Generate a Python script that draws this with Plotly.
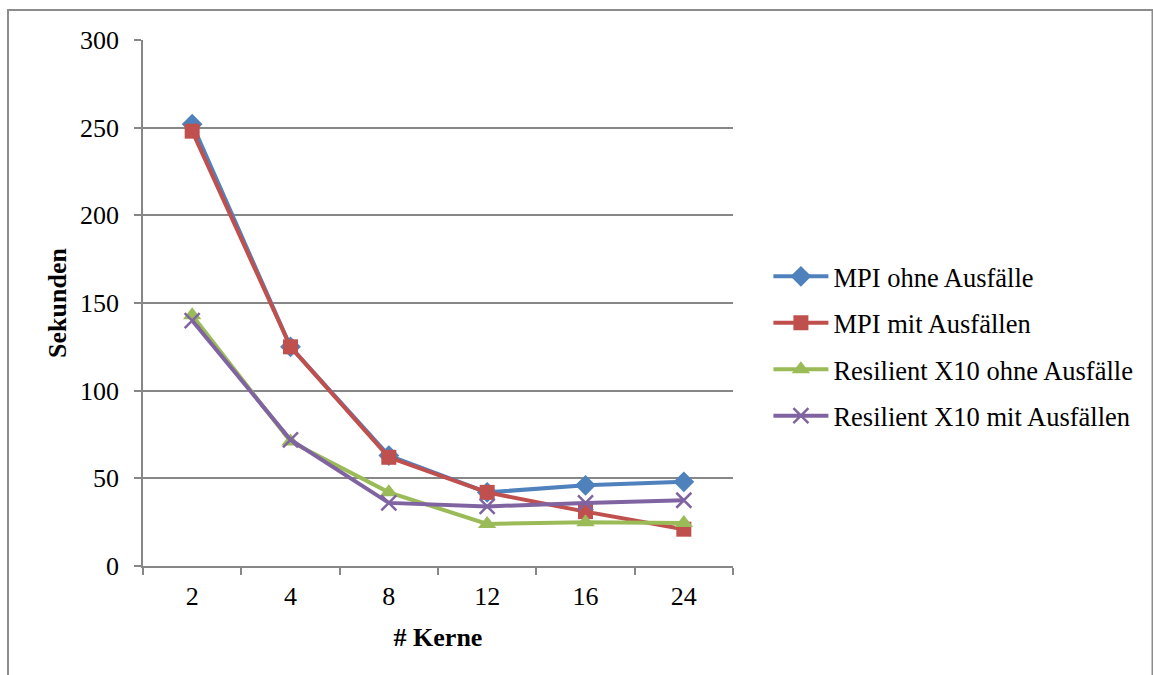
import plotly.graph_objects as go

kerne = ["2", "4", "8", "12", "16", "24"]
mpi_ohne = [252, 125, 63, 42, 46, 48]
mpi_mit = [248, 125, 62, 42, 31, 21]
x10_ohne = [143, 71, 42, 24, 25, 24.5]
x10_mit = [140, 72, 36, 34, 36, 37.5]
y_ticks = [0, 50, 100, 150, 200, 250, 300]

series = [
    ("MPI ohne Ausfälle", mpi_ohne, "#4F81BD", "diamond", 16),
    ("MPI mit Ausfällen", mpi_mit, "#C0504D", "square", 15),
    ("Resilient X10 ohne Ausfälle", x10_ohne, "#9BBB59", "triangle-up", 16),
    ("Resilient X10 mit Ausfällen", x10_mit, "#8064A2", "x-thin-open", 15),
]

fig = go.Figure()
for i, (name, vals, color, sym, size) in enumerate(series):
    fig.add_trace(go.Scatter(
        x=kerne, y=vals, name=name, mode="lines+markers",
        legendgroup=f"g{i}",
        line=dict(color=color, width=4),
        marker=dict(symbol=sym, size=size, color=color,
                    line=dict(color=color, width=2.5 if sym == "x-thin-open" else 0)),
    ))

font = "Liberation Serif, Times New Roman, serif"
fig.update_layout(
    width=1153, height=675,
    margin=dict(l=143, r=420, t=40, b=109),
    paper_bgcolor="white", plot_bgcolor="white",
    font=dict(family=font, size=26, color="black"),
    showlegend=True,
    legend=dict(x=1.06, y=0.418, xanchor="left", yanchor="middle",
                tracegroupgap=9, font=dict(size=26.5), itemwidth=55,
                borderwidth=0, bgcolor="rgba(0,0,0,0)"),
    xaxis=dict(
        type="category", range=[-0.5, 5.5],
        tickson="boundaries", ticks="outside", ticklen=7, tickwidth=1.5,
        tickcolor="#878787", showline=True, linecolor="#878787", linewidth=1.5,
        showgrid=False, tickfont=dict(size=26), ticklabelstandoff=6,
        title=dict(text="<b># Kerne</b>", font=dict(size=26), standoff=18),
    ),
    yaxis=dict(
        range=[0, 300], tickvals=y_ticks, ticks="outside", ticklen=7, tickwidth=1.5,
        tickcolor="#878787", showline=True, linecolor="#878787", linewidth=1.5,
        showgrid=True, gridcolor="#878787", gridwidth=1.5, zeroline=False,
        tickfont=dict(size=26), ticklabelstandoff=10,
        title=dict(text="<b>Sekunden</b>", font=dict(size=26), standoff=6),
    ),
)

fig.add_shape(type="rect", xref="paper", yref="paper",
              x0=(8 - 143) / 590, x1=(1152.5 - 143) / 590,
              y0=-0.5, y1=(566 - 10) / 526,
              line=dict(color="#8c8c8c", width=2), fillcolor="rgba(0,0,0,0)", layer="below")

fig.write_html("out.html")
